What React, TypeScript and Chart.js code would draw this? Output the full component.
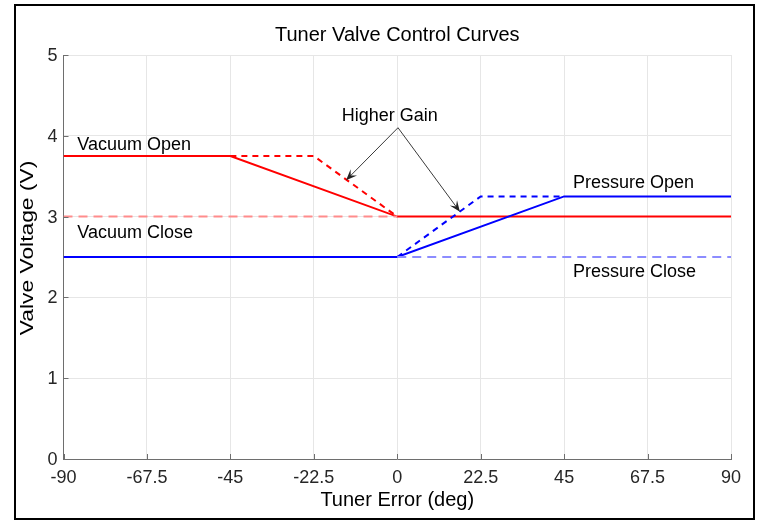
import React, { useEffect, useRef } from "react";
import { Chart, registerables } from "chart.js";

Chart.register(...registerables);

// ---- data ----
const xTicks = [-90, -67.5, -45, -22.5, 0, 22.5, 45, 67.5, 90];
const yTicks = [0, 1, 2, 3, 4, 5];

const vacuumOpenX = [-90, -45, 0, 90];
const vacuumOpenY = [3.75, 3.75, 3, 3];
const vacuumOpenHighX = [-45, -22.5, 0];
const vacuumOpenHighY = [3.75, 3.75, 3];
const vacuumCloseRefX = [-90, 0];
const vacuumCloseRefY = [3, 3];
const pressureOpenX = [-90, 0, 45, 90];
const pressureOpenY = [2.5, 2.5, 3.25, 3.25];
const pressureOpenHighX = [0, 22.5, 45];
const pressureOpenHighY = [2.5, 3.25, 3.25];
const pressureCloseRefX = [0, 90];
const pressureCloseRefY = [2.5, 2.5];

const curveLabels = ["Vacuum Open", "Vacuum Close", "Pressure Open", "Pressure Close"];
const curveLabelX = [-86.3, -86.3, 47.4, 47.4];
const curveLabelY = [3.88, 2.8, 3.41, 2.32];

const gainText = "Higher Gain";
const gainTextX = -2;
const gainTextY = 4.25;
const arrowFromX = 0.2;
const arrowFromY = 4.1;
const arrowTipX = [-13.8, 16.9];
const arrowTipY = [3.45, 3.06];

const titleText = "Tuner Valve Control Curves";
const xTitle = "Tuner Error (deg)";
const yTitle = "Valve Voltage (V)";

const FONT = '"Liberation Sans", Arial, Helvetica, sans-serif';

const zip = (xs: number[], ys: number[]) => xs.map((x, i) => ({ x, y: ys[i] }));

const overlay = {
  id: "overlay",
  afterDraw(chart: any) {
    const ctx = chart.ctx as CanvasRenderingContext2D;
    const xs = chart.scales.x;
    const ys = chart.scales.y;
    const area = chart.chartArea;
    const cx = (area.left + area.right) / 2;
    ctx.save();

    // inward tick marks
    ctx.strokeStyle = "#6e6e6e";
    ctx.lineWidth = 1;
    ctx.beginPath();
    xTicks.forEach((v) => {
      const px = Math.round(xs.getPixelForValue(v)) + 0.5;
      ctx.moveTo(px, area.bottom);
      ctx.lineTo(px, area.bottom - 5);
    });
    yTicks.forEach((v) => {
      const py = Math.round(ys.getPixelForValue(v)) + 0.5;
      ctx.moveTo(area.left, py);
      ctx.lineTo(area.left + 5, py);
    });
    ctx.stroke();

    // tick labels
    ctx.fillStyle = "#262626";
    ctx.font = `18px ${FONT}`;
    ctx.textAlign = "center";
    ctx.textBaseline = "middle";
    xTicks.forEach((v) => {
      ctx.fillText(String(v), xs.getPixelForValue(v), area.bottom + 19);
    });
    ctx.textAlign = "right";
    yTicks.forEach((v) => {
      ctx.fillText(String(v), area.left - 6, ys.getPixelForValue(v) + 1);
    });

    // title and axis titles
    ctx.fillStyle = "#000";
    ctx.textAlign = "center";
    ctx.font = `20px ${FONT}`;
    ctx.fillText(titleText, cx, 35);
    ctx.fillText(xTitle, cx, 500);
    ctx.save();
    ctx.translate(28, 248);
    ctx.rotate(-Math.PI / 2);
    ctx.scale(1.2, 1);
    ctx.font = `19px ${FONT}`;
    ctx.fillText(yTitle, 0, 0);
    ctx.restore();

    // curve labels
    ctx.font = `18px ${FONT}`;
    ctx.textAlign = "left";
    curveLabels.forEach((t, i) => {
      ctx.fillText(t, xs.getPixelForValue(curveLabelX[i]), ys.getPixelForValue(curveLabelY[i]));
    });
    ctx.textAlign = "center";
    ctx.fillText(gainText, xs.getPixelForValue(gainTextX), ys.getPixelForValue(gainTextY));

    // arrows
    const fx = xs.getPixelForValue(arrowFromX);
    const fy = ys.getPixelForValue(arrowFromY);
    ctx.strokeStyle = "#3a3a3a";
    ctx.fillStyle = "#222";
    ctx.lineWidth = 1;
    arrowTipX.forEach((ax, i) => {
      const tx = xs.getPixelForValue(ax);
      const ty = ys.getPixelForValue(arrowTipY[i]);
      const ang = Math.atan2(ty - fy, tx - fx);
      const len = 11;
      const hw = 4.5;
      ctx.beginPath();
      ctx.moveTo(fx, fy);
      ctx.lineTo(tx - Math.cos(ang) * 6, ty - Math.sin(ang) * 6);
      ctx.stroke();
      const bx = tx - Math.cos(ang) * len;
      const by = ty - Math.sin(ang) * len;
      const nx = -Math.sin(ang);
      const ny = Math.cos(ang);
      const mx = tx - Math.cos(ang) * (len * 0.6);
      const my = ty - Math.sin(ang) * (len * 0.6);
      ctx.beginPath();
      ctx.moveTo(tx, ty);
      ctx.lineTo(bx + nx * hw, by + ny * hw);
      ctx.lineTo(mx, my);
      ctx.lineTo(bx - nx * hw, by - ny * hw);
      ctx.closePath();
      ctx.fill();
    });

    // outer frame
    ctx.strokeStyle = "#000";
    ctx.lineWidth = 2;
    ctx.strokeRect(15, 5, 739, 514);
    ctx.restore();
  },
};

export default function App() {
  const ref = useRef<HTMLCanvasElement | null>(null);

  useEffect(() => {
    document.body.style.margin = "0";
    const canvas = ref.current;
    if (!canvas) return;
    const line = (color: string, xs: number[], ys: number[], dash: number[] = []) => ({
      data: zip(xs, ys),
      showLine: true,
      borderColor: color,
      backgroundColor: color,
      borderWidth: 2,
      borderDash: dash,
      pointRadius: 0,
      fill: false,
      tension: 0,
    });
    const chart = new Chart(canvas, {
      type: "scatter",
      data: {
        datasets: [
          line("#ff8c8c", vacuumCloseRefX, vacuumCloseRefY, [9, 6]),
          line("#8c8cff", pressureCloseRefX, pressureCloseRefY, [9, 6]),
          line("#0000ff", pressureOpenHighX, pressureOpenHighY, [6, 5]),
          line("#ff0000", vacuumOpenHighX, vacuumOpenHighY, [6, 5]),
          line("#0000ff", pressureOpenX, pressureOpenY),
          line("#ff0000", vacuumOpenX, vacuumOpenY),
        ] as any,
      },
      options: {
        responsive: false,
        animation: false,
        layout: { padding: { top: 55, right: 28, left: 0, bottom: 0 } },
        plugins: { legend: { display: false }, tooltip: { enabled: false }, title: { display: false } },
        scales: {
          x: {
            type: "linear",
            min: -90,
            max: 90,
            afterBuildTicks: (s: any) => {
              s.ticks = xTicks.map((v) => ({ value: v }));
            },
            afterFit: (s: any) => {
              s.height = 61;
            },
            ticks: { display: false },
            grid: { color: "#e6e6e6", lineWidth: 1, drawTicks: false },
            border: { display: true, color: "#6e6e6e", width: 1 },
          },
          y: {
            type: "linear",
            min: 0,
            max: 5,
            afterBuildTicks: (s: any) => {
              s.ticks = yTicks.map((v) => ({ value: v }));
            },
            afterFit: (s: any) => {
              s.width = 63.5;
            },
            ticks: { display: false },
            grid: { color: "#e6e6e6", lineWidth: 1, drawTicks: false },
            border: { display: true, color: "#6e6e6e", width: 1 },
          },
        },
      } as any,
      plugins: [overlay],
    });
    return () => chart.destroy();
  }, []);

  return (
    <div style={{ position: "absolute", left: 0, top: 0, width: 759, height: 520 }}>
      <canvas ref={ref} width={759} height={520} style={{ display: "block", width: 759, height: 520 }} />
    </div>
  );
}
